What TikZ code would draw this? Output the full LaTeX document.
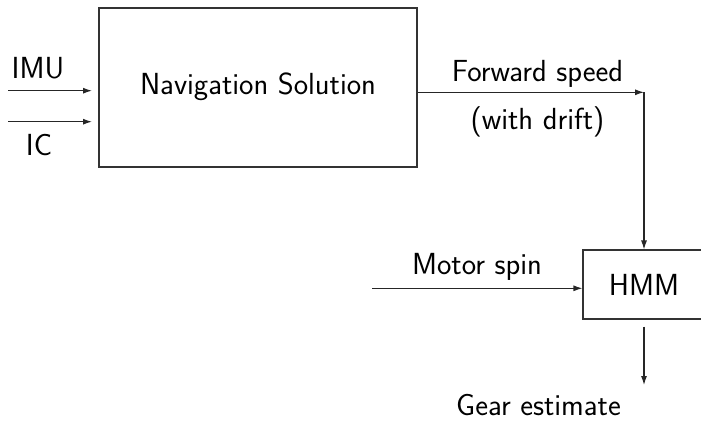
\documentclass[tikz,border=0pt]{standalone}
\usetikzlibrary{arrows.meta}
\begin{document}
\begin{tikzpicture}[x=1pt,y=-1pt,
  font=\sffamily\fontsize{30.5}{36}\selectfont,
  blockbox/.style={draw=black!80,line width=1.1pt,inner sep=0pt,anchor=center},
  flow/.style={draw=black!85,line width=1.1pt,-{Latex[length=9pt,width=6pt]}},
  lbl/.style={inner sep=0pt,anchor=base}]
  \useasboundingbox (0,0) rectangle (701,421);
  \begin{scope}
  \clip (0,0) rectangle (701,421);
  % blocks
  \node[blockbox,minimum width=318pt,minimum height=159pt] (nav) at (258,87.5) {};
  \node[lbl] (navtext) at (258,94.5) {Navigation Solution};
  \node[blockbox,minimum width=122pt,minimum height=69pt] (hmm) at (644,284.5) {};
  \node[lbl] (hmmtext) at (644,295) {HMM};
  % input ends and corners
  \coordinate (imuS) at (8,90.7);
  \coordinate (imuE) at (92,90.7);
  \coordinate (icS) at (8,121.7);
  \coordinate (icE) at (92,121.7);
  \coordinate (fwdS) at (nav.east |- 0,92.3);
  \coordinate (fwdE) at (644,92.3);
  \coordinate (motS) at (372,288.3);
  \coordinate (motE) at (hmm.west |- 0,288.3);
  \coordinate (gearS) at (644,326.7);
  \coordinate (gearE) at (644,385);
  % connectors
  \draw[flow] (imuS) -- (imuE);
  \draw[flow] (icS) -- (icE);
  \draw[flow] (fwdS) -- (fwdE);
  \draw[flow] (fwdE) -- (hmm.north);
  \draw[flow] (motS) -- (motE);
  \draw[flow] (gearS) -- (gearE);
  % labels
  \node[lbl] (imu) at (38,78.5) {IMU};
  \node[lbl] (ic) at (39,155) {IC};
  \node[lbl] (fwd) at (537.5,81) {Forward speed};
  \node[lbl] (drift) at (537.5,129) {(with drift)};
  \node[lbl] (mot) at (477,274.5) {Motor spin};
  \node[lbl] (gear) at (538.5,415) {Gear estimate};
  \end{scope}
\end{tikzpicture}
\end{document}
